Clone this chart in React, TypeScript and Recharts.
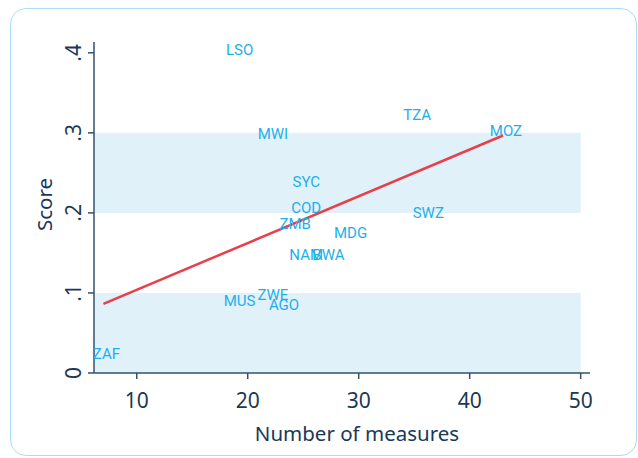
import React from 'react';
import { ComposedChart, Scatter, XAxis, YAxis, ReferenceArea } from 'recharts';

const countries = ['LSO', 'MWI', 'TZA', 'MOZ', 'SYC', 'COD', 'SWZ', 'ZMB', 'MDG', 'NAM', 'BWA', 'MUS', 'ZWE', 'AGO', 'ZAF'];
const measures = [19, 22, 35, 43, 25, 25, 36, 24, 29, 25, 27, 19, 22, 23, 7];
const scores = [0.4035, 0.2988, 0.3224, 0.3017, 0.2385, 0.2061, 0.2002, 0.1865, 0.1753, 0.1471, 0.1471, 0.0905, 0.098, 0.0855, 0.0232];

const fitX = [7, 43];
const fitY = [0.0864, 0.2967];

const xTicks = [10, 20, 30, 40, 50];
const yTicks = [0, 0.1, 0.2, 0.3, 0.4];
const yTickLabels = ['0', '.1', '.2', '.3', '.4'];
const bandLow = [0, 0.2];
const bandHigh = [0.1, 0.3];
const bandXEnd = 50;
const xDomain = [6.15, 50.84];
const yDomain = [0, 0.4135];

const xTitle = 'Number of measures';
const yTitle = 'Score';

const points = countries.map((name, i) => ({ name, x: measures[i], y: scores[i] }));
const fitData = fitX.map((x, i) => ({ x, y: fitY[i] }));

const AXIS_COLOR = '#34506e';
const TEXT_COLOR = '#1b3857';
const LABEL_COLOR = '#1cb0ea';
const LINE_COLOR = '#e8404b';
const BAND_COLOR = '#e0f1fa';
const AXIS_FONT = '"Noto Sans", sans-serif';
const LABEL_FONT = 'Roboto, sans-serif';

const LabelShape = (props: any) => {
  const { cx, cy, payload } = props;
  return (
    <text
      x={cx + 3}
      y={cy}
      textAnchor="middle"
      dominantBaseline="central"
      fill={LABEL_COLOR}
      fontFamily={LABEL_FONT}
      fontSize={15}
    >
      {payload.name}
    </text>
  );
};

const XTick = (props: any) => {
  const { x, y, payload } = props;
  return (
    <text x={x} y={y + 21} textAnchor="middle" dominantBaseline="central" fill={TEXT_COLOR} fontFamily={AXIS_FONT} fontSize={21}>
      {payload.value}
    </text>
  );
};

const YTick = (props: any) => {
  const { x, y, payload } = props;
  const idx = yTicks.indexOf(payload.value);
  const label = idx >= 0 ? yTickLabels[idx] : String(payload.value);
  const tx = x - 15;
  return (
    <text
      x={tx}
      y={y}
      transform={`rotate(-90, ${tx}, ${y})`}
      textAnchor="middle"
      dominantBaseline="central"
      fill={TEXT_COLOR}
      fontFamily={AXIS_FONT}
      fontSize={21}
    >
      {label}
    </text>
  );
};

const XTitle = (props: any) => {
  const vb = props.viewBox || {};
  const cx = (vb.x || 0) + (vb.width || 0) / 2 + 15;
  const cy = (vb.y || 0) + 60;
  return (
    <text x={cx} y={cy} textAnchor="middle" dominantBaseline="central" fill={TEXT_COLOR} fontFamily={AXIS_FONT} fontSize={20.5}>
      {xTitle}
    </text>
  );
};

const YTitle = (props: any) => {
  const vb = props.viewBox || {};
  const cx = (vb.x || 0) + (vb.width || 0) - 50;
  const cy = (vb.y || 0) + (vb.height || 0) / 2 - 3;
  return (
    <text
      x={cx}
      y={cy}
      transform={`rotate(-90, ${cx}, ${cy})`}
      textAnchor="middle"
      dominantBaseline="central"
      fill={TEXT_COLOR}
      fontFamily={AXIS_FONT}
      fontSize={20.5}
    >
      {yTitle}
    </text>
  );
};

export default function App() {
  return (
    <div style={{ position: 'absolute', left: 0, top: 0, width: 638, height: 458, background: '#fff', overflow: 'hidden' }}>
      <div
        style={{
          position: 'absolute',
          left: 10,
          top: 8,
          width: 627,
          height: 448,
          border: '1.5px solid #a9ddf5',
          borderRadius: 16,
          boxSizing: 'border-box',
        }}
      />
      <div style={{ position: 'absolute', left: 0, top: 0 }}>
        <ComposedChart width={638} height={458} margin={{ top: 42, right: 48, bottom: 0, left: 0 }}>
          <XAxis
            type="number"
            dataKey="x"
            domain={xDomain}
            ticks={xTicks}
            allowDataOverflow
            height={85}
            stroke={AXIS_COLOR}
            strokeWidth={1.5}
            tickSize={6}
            tickMargin={0}
            tick={<XTick />}
            tickLine={{ stroke: AXIS_COLOR, strokeWidth: 1.5 }}
            label={<XTitle />}
          />
          <YAxis
            type="number"
            dataKey="y"
            domain={yDomain}
            ticks={yTicks}
            allowDataOverflow
            width={94}
            stroke={AXIS_COLOR}
            strokeWidth={1.5}
            tickSize={6}
            tickMargin={0}
            tick={<YTick />}
            tickLine={{ stroke: AXIS_COLOR, strokeWidth: 1.5 }}
            label={<YTitle />}
          />
          {bandLow.map((lo, i) => (
            <ReferenceArea
              key={i}
              x1={xDomain[0]}
              x2={bandXEnd}
              y1={lo}
              y2={bandHigh[i]}
              fill={BAND_COLOR}
              fillOpacity={1}
              stroke="none"
            />
          ))}
          <Scatter
            data={fitData}
            line={{ stroke: LINE_COLOR, strokeWidth: 2.5 }}
            shape={() => <g />}
            isAnimationActive={false}
          />
          <Scatter data={points} shape={<LabelShape />} isAnimationActive={false} />
        </ComposedChart>
      </div>
    </div>
  );
}
